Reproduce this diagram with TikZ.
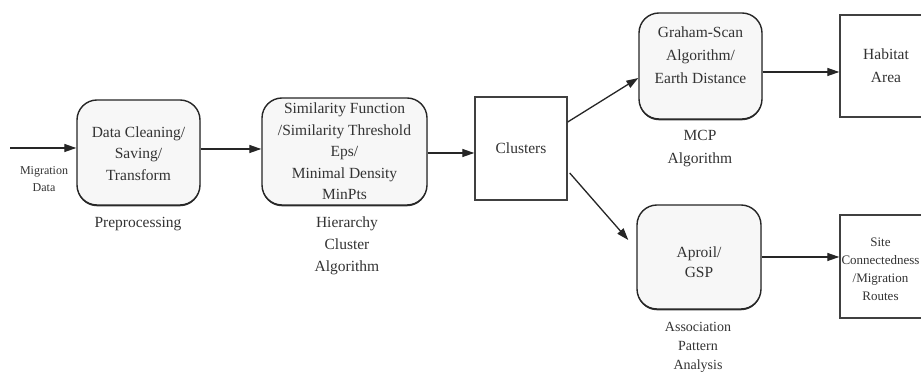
\documentclass[tikz,border=0pt]{standalone}
\usepackage{fontspec}
\setmainfont{Liberation Serif}
\usetikzlibrary{arrows.meta,shadows}
\begin{document}
\begin{tikzpicture}[x=1pt,y=1pt,
  rbox/.style={draw=black!85, line width=1.4pt, rounded corners=20pt, fill=black!3, inner sep=0pt,
    drop shadow={shadow xshift=0pt, shadow yshift=-1.3pt, fill=black!80, opacity=1}},
  sbox/.style={draw=black!75, line width=1.4pt, fill=white, inner sep=0pt},
  txt/.style={align=center, text=black!80, font=\fontsize{15.5}{21.5}\selectfont, inner sep=0pt},
  flow/.style={draw=black!85, line width=1.3pt, -{Triangle[length=12pt,width=8pt]}},
]
\useasboundingbox (0,0) rectangle (921,374);
\clip (0,0) rectangle (921,374);
\fill[white] (0,0) rectangle (921,374);

% boxes
\node[rbox, minimum width=123pt, minimum height=105pt] (pre) at (138.5,221.5) {};
\node[rbox, minimum width=165pt, minimum height=107pt] (sim) at (344.5,222.5) {};
\node[sbox, minimum width=92pt, minimum height=103pt] (clu) at (521,225.5) {};
\node[rbox, minimum width=123pt, minimum height=106pt] (gra) at (700.5,308) {};
\node[sbox, minimum width=92pt, minimum height=102pt] (hab) at (886,308) {};
\node[rbox, minimum width=124pt, minimum height=104pt] (apr) at (699,117) {};
\node[sbox, minimum width=88pt, minimum height=103pt] (site) at (884,107.5) {};

% box texts
\node[txt] (pretxt) at (138.5,220.7) {Data Cleaning/\\Saving/\\Transform};
\node[txt] (simtxt) at (344.5,222.4) {Similarity Function\\/Similarity Threshold\\Eps/\\Minimal Density\\MinPts};
\node[txt] (clutxt) at (521,226) {Clusters};
\node[txt, font=\fontsize{15.5}{23}\selectfont] (gratxt) at (700.5,319) {Graham-Scan\\Algorithm/\\Earth Distance};
\node[txt, font=\fontsize{15.5}{23}\selectfont] (habtxt) at (886,308.5) {Habitat\\Area};
\node[txt, font=\fontsize{15.5}{20}\selectfont] (aprtxt) at (699,112) {Aproil/\\GSP};
\node[txt, font=\fontsize{13}{18}\selectfont] (sitetxt) at (880.5,104.5) {Site\\Connectedness\\/Migration\\Routes};

% labels
\node[txt, font=\fontsize{12}{17}\selectfont] (migl) at (44,194.5) {Migration\\Data};
\node[txt] (prel) at (138,150) {Preprocessing};
\node[txt, font=\fontsize{15.5}{22}\selectfont] (siml) at (347,128) {Hierarchy\\Cluster\\Algorithm};
\node[txt, font=\fontsize{15.5}{23}\selectfont] (gral) at (700,225.5) {MCP\\Algorithm};
\node[txt, font=\fontsize{14}{19}\selectfont] (aprl) at (698,27) {Association\\Pattern\\Analysis};

% connectors
\coordinate (in) at (10,226);
\coordinate (a1) at (0,225);
\coordinate (a2) at (0,221);
\coordinate (a3) at (0,302);
\coordinate (a4) at (0,117);
\draw[flow] (in) -- (in -| pre.west);
\draw[flow] (pre.east |- a1) -- (sim.west |- a1);
\draw[flow] (sim.east |- a2) -- (clu.west |- a2);
\draw[flow] ([yshift=26.5pt]clu.east) -- ([yshift=-12pt]gra.west);
\draw[flow] ([xshift=2pt,yshift=-24.5pt]clu.east) -- ([xshift=-8pt,yshift=17pt]apr.west);
\draw[flow] (gra.east |- a3) -- (hab.west |- a3);
\draw[flow] (apr.east |- a4) -- (site.west |- a4);
\end{tikzpicture}
\end{document}
